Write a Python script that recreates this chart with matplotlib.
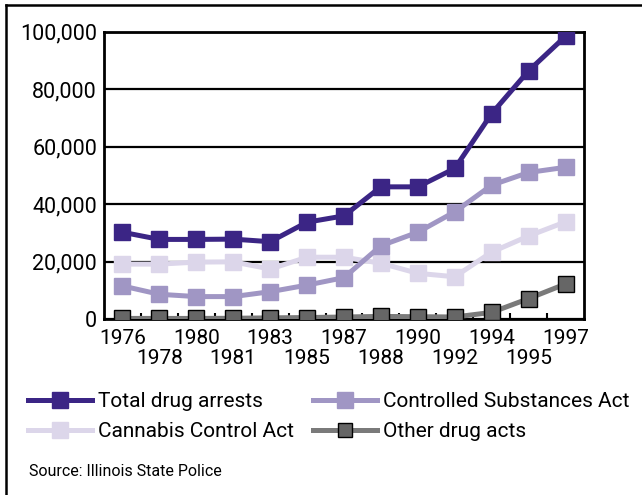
import matplotlib
matplotlib.use("Agg")
import matplotlib.pyplot as plt
from matplotlib.lines import Line2D
from matplotlib.ticker import FuncFormatter, MultipleLocator, FixedLocator

plt.rcParams['font.family'] = ['Roboto', 'DejaVu Sans']

years = ["1976", "1978", "1980", "1981", "1983", "1985", "1987",
         "1988", "1990", "1992", "1994", "1995", "1997"]
total = [30200, 27700, 27700, 27800, 26900, 33700, 35900,
         46000, 46000, 52400, 71500, 86400, 98400]
controlled = [11500, 8600, 7800, 7800, 9500, 11800, 14400,
              25500, 30200, 37300, 46600, 51000, 52800]
cannabis = [19100, 19100, 19800, 19900, 17400, 21500, 21500,
            19400, 15900, 14700, 23300, 28900, 33800]
other = [200, 200, 200, 250, 400, 500, 700,
         900, 800, 700, 2300, 7100, 12200]
series_names = ["Total drug arrests", "Controlled Substances Act",
                "Cannabis Control Act", "Other drug acts"]
source = "Source: Illinois State Police"

W, H = 642, 495
fig = plt.figure(figsize=(W / 100, H / 100), dpi=100)
fig.patch.set_facecolor("white")

ax = fig.add_axes([104 / W, 1 - 319 / H, (584 - 104) / W, (319 - 31.7) / H])
x = list(range(len(years)))

c_total = "#3b2585"
c_ctrl = "#a096c4"
c_cann = "#dcd6ea"
c_other_line = "#7a7a7a"
c_other_face = "#666666"

FS = 15
lw = 3.6
ms = 12
ax.plot(x, other, color=c_other_line, lw=lw, marker="s", ms=ms - 1,
        mfc=c_other_face, mec="black", mew=1.0, zorder=3)
ax.plot(x, cannabis, color=c_cann, lw=lw, marker="s", ms=ms,
        mfc=c_cann, mec=c_cann, zorder=4)
ax.plot(x, controlled, color=c_ctrl, lw=lw, marker="s", ms=ms,
        mfc=c_ctrl, mec=c_ctrl, zorder=5)
ax.plot(x, total, color=c_total, lw=lw, marker="s", ms=ms,
        mfc=c_total, mec=c_total, zorder=6)

ax.set_xlim(-0.5, len(years) - 0.5)
ax.set_ylim(0, 100000)
ax.yaxis.set_major_locator(MultipleLocator(20000))
ax.yaxis.set_major_formatter(FuncFormatter(lambda v, p: f"{int(v):,}"))
ax.grid(axis="y", color="black", lw=1.6, zorder=1)
ax.set_axisbelow(True)
for s in ax.spines.values():
    s.set_linewidth(2.0)
    s.set_color("black")
ax.tick_params(axis="y", length=0, pad=5, labelsize=15.5)

ax.xaxis.set_major_locator(FixedLocator([]))
ax.xaxis.set_minor_locator(FixedLocator([i + 0.5 for i in range(len(years) - 1)]))
ax.tick_params(axis="x", which="minor", direction="in", length=4, width=1.5,
               color="black")

for i, yr in enumerate(years):
    ypix = -10 if i % 2 == 0 else -30
    ax.annotate(yr, xy=(i, 0), xycoords=("data", "axes fraction"),
                xytext=(0, ypix * 0.72), textcoords="offset points",
                ha="center", va="top", fontsize=FS)

handles = [
    Line2D([], [], color=c_total, lw=lw, marker="s", ms=ms - 1, mfc=c_total, mec=c_total),
    Line2D([], [], color=c_ctrl, lw=lw, marker="s", ms=ms - 1, mfc=c_ctrl, mec=c_ctrl),
    Line2D([], [], color=c_cann, lw=lw, marker="s", ms=ms - 1, mfc=c_cann, mec=c_cann),
    Line2D([], [], color=c_other_line, lw=lw, marker="s", ms=ms - 2,
           mfc=c_other_face, mec="black", mew=1.0),
]
hl = 64 / (FS * 100 / 72)
htp = 6 / (FS * 100 / 72)
# left column: Total, Cannabis ; right column: Controlled, Other
for col_idx, (x0, ids) in enumerate([(28, [0, 2]), (313, [1, 3])]):
    leg = fig.legend([handles[i] for i in ids], [series_names[i] for i in ids],
                     loc="upper left", bbox_to_anchor=(x0 / W, 1 - 392 / H),
                     frameon=False, fontsize=FS, handlelength=hl,
                     handletextpad=htp, labelspacing=0.52, borderpad=0,
                     borderaxespad=0)

fig.text(29 / W, 1 - 471 / H, source, fontsize=11.5, ha="left", va="center")

fig.add_artist(Line2D([6 / W, 6 / W], [0, 1 - 5 / H], color="black", lw=1.8))
fig.add_artist(Line2D([6 / W, 1], [1 - 5 / H, 1 - 5 / H], color="black", lw=1.8))

fig.savefig("out.png", dpi=100)
